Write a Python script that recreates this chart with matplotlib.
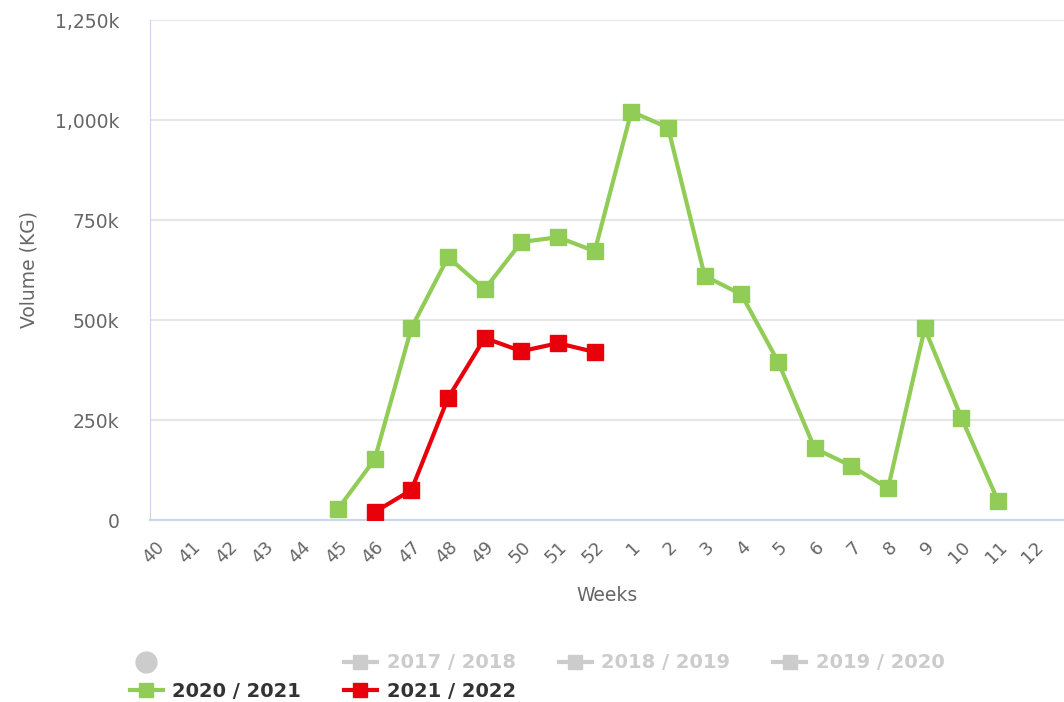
import numpy as np
import matplotlib.pyplot as plt
import matplotlib.transforms as mtransforms
from matplotlib.lines import Line2D

# week categories (season runs week 40 -> week 12 of next year)
weeks = ['40', '41', '42', '43', '44', '45', '46', '47', '48', '49', '50', '51', '52',
         '1', '2', '3', '4', '5', '6', '7', '8', '9', '10', '11', '12']

# volumes in kg, None where there is no data
vol_2020_21 = [None, None, None, None, None, 28000, 152000, 480000, 657000, 577000,
               695000, 707000, 672000, 1021000, 981000, 610000, 564000, 396000,
               179000, 135000, 79000, 479000, 256000, 48000, None]
vol_2021_22 = [None, None, None, None, None, None, 20000, 75000, 305000, 455000,
               422000, 442000, 420000, None, None, None, None, None,
               None, None, None, None, None, None, None]

green = '#90cc56'
red = '#e8000b'
grey = '#cccccc'

def to_arr(v):
    return np.array([np.nan if x is None else x for x in v], dtype=float)

x = np.arange(len(weeks))

fig = plt.figure(figsize=(10.64, 7.02), dpi=100)
ax = fig.add_axes([150/1064, 182/702, 914/1064, 500/702])

ax.plot(x, to_arr(vol_2020_21), color=green, lw=3, marker='s', ms=11, zorder=3)
ax.plot(x, to_arr(vol_2021_22), color=red, lw=3, marker='s', ms=11, zorder=3)

ax.set_xlim(-0.13, 24.8)
ax.set_ylim(0, 1250000)
ax.set_yticks([0, 250000, 500000, 750000, 1000000, 1250000])
ax.set_yticklabels(['0', '250k', '500k', '750k', '1,000k', '1,250k'])
ax.set_xticks(x)
ax.set_xticklabels(weeks, rotation=45, ha='right', va='top', rotation_mode='anchor')
# nudge the rotated labels a little to the left, like the original
shift = mtransforms.ScaledTranslation(-6/100, 0, fig.dpi_scale_trans)
for lab in ax.get_xticklabels():
    lab.set_transform(lab.get_transform() + shift)

ax.grid(axis='y', color='#e6e6e6', lw=1.5)
ax.set_axisbelow(True)
for s in ['top', 'right']:
    ax.spines[s].set_visible(False)
ax.spines['left'].set_color('#ccd6eb')
ax.spines['bottom'].set_color('#ccd6eb')
ax.spines['bottom'].set_linewidth(1.5)
ax.tick_params(axis='y', length=0, pad=22, labelsize=13.5, labelcolor='#666666')
ax.tick_params(axis='x', length=0, pad=13, labelsize=13, labelcolor='#666666')

ax.set_ylabel('Volume (KG)', fontsize=13.5, color='#666666', labelpad=12)
ax.set_xlabel('Weeks', fontsize=13.5, color='#666666', labelpad=14)

# legend: hidden series shown in grey, filled row-wise over 4 columns
handles = [
    Line2D([], [], ls='none', marker='o', ms=15, color=grey),
    Line2D([], [], color=green, lw=3, marker='s', ms=10),
    Line2D([], [], color=grey, lw=3, marker='s', ms=10),
    Line2D([], [], color=red, lw=3, marker='s', ms=10),
    Line2D([], [], color=grey, lw=3, marker='s', ms=10),
    Line2D([], [], color=grey, lw=3, marker='s', ms=10),
]
labels = ['', '2020 / 2021', '2017 / 2018', '2021 / 2022', '2018 / 2019', '2019 / 2020']
leg = fig.legend(handles, labels, ncol=4, loc='upper left', bbox_to_anchor=(112/1064, 1 - 636/702),
                 frameon=False, prop={'size': 14, 'weight': 'bold'},
                 handlelength=1.7, handletextpad=0.5, columnspacing=2.2, labelspacing=0.5)
text_colors = ['#333333', '#333333', grey, '#333333', grey, grey]
for t, c in zip(leg.get_texts(), text_colors):
    t.set_color(c)

fig.savefig('out.png', dpi=100)
